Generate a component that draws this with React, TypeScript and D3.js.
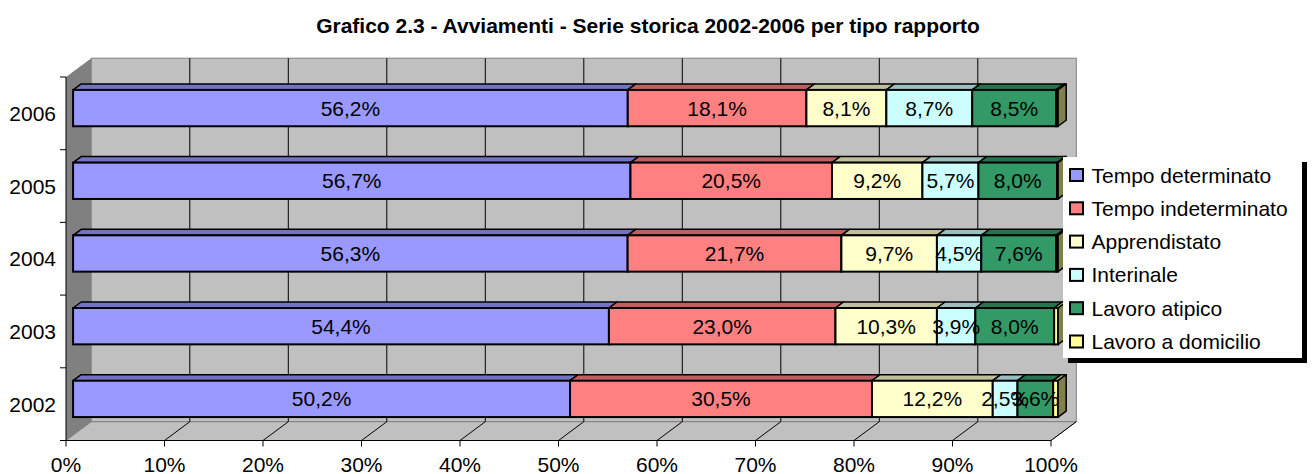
import React from 'react';
import * as d3 from 'd3';

const years = ['2006', '2005', '2004', '2003', '2002'];
const seriesNames = [
  'Tempo determinato',
  'Tempo indeterminato',
  'Apprendistato',
  'Interinale',
  'Lavoro atipico',
  'Lavoro a domicilio',
];
const tempoDeterminato = [56.2, 56.7, 56.3, 54.4, 50.2];
const tempoIndeterminato = [18.1, 20.5, 21.7, 23.0, 30.5];
const apprendistato = [8.1, 9.2, 9.7, 10.3, 12.2];
const interinale = [8.7, 5.7, 4.5, 3.9, 2.5];
const lavoroAtipico = [8.5, 8.0, 7.6, 8.0, 3.6];
const lavoroDomicilio = [0.2, 0.1, 0.2, 0.4, 0.5];
const xTicks = [0, 0.1, 0.2, 0.3, 0.4, 0.5, 0.6, 0.7, 0.8, 0.9, 1];

const colors = ['#9999FF', '#FF8080', '#FFFFCC', '#CCFFFF', '#339966', '#FFFF99'];
const font = "'Liberation Sans', Arial, sans-serif";

const W = 1312, H = 474;
// front plane of the 3d box and depth vector
const left = 66, right = 1051, top = 77, bottom = 440.5;
const dx = 25.3, dy = -18.8;
// bar front / back depth within the box
const bf = 0.28, bb = 0.6;
const fs = 21;

export default function App() {
  const rows = years.map((y, i) => ({
    year: y,
    [seriesNames[0]]: tempoDeterminato[i],
    [seriesNames[1]]: tempoIndeterminato[i],
    [seriesNames[2]]: apprendistato[i],
    [seriesNames[3]]: interinale[i],
    [seriesNames[4]]: lavoroAtipico[i],
    [seriesNames[5]]: lavoroDomicilio[i],
  }));

  const stacked = d3.stack<any>().keys(seriesNames).offset(d3.stackOffsetExpand)(rows);

  const x = d3.scaleLinear().domain([0, 1]).range([left, right]);
  const y = d3.scaleBand().domain(years).range([top, bottom]).paddingInner(0.5).paddingOuter(0.25);
  const bw = y.bandwidth();

  const fx = dx * bf, fy = dy * bf;
  const ddx = dx * (bb - bf), ddy = dy * (bb - bf);

  const fmt = (v: number) => d3.format('.1f')(v).replace('.', ',') + '%';
  const shade = (c: string, k: number) => {
    const r = d3.rgb(c);
    return d3.rgb(r.r * k, r.g * k, r.b * k).formatHex();
  };

  const bars: any[] = [];
  const labels: any[] = [];
  years.forEach((yr, i) => {
    const y0 = (y(yr) as number) + fy;
    const y1 = y0 + bw;
    stacked.forEach((s, k) => {
      const d = s[i];
      const xa = x(d[0]) + fx, xb = x(d[1]) + fx;
      bars.push(
        <g key={yr + k}>
          <polygon
            points={`${xa},${y0} ${xb},${y0} ${xb + ddx},${y0 + ddy} ${xa + ddx},${y0 + ddy}`}
            fill={shade(colors[k], 0.75)}
            stroke="#000"
            strokeWidth={1.5}
            strokeLinejoin="round"
          />
          <rect x={xa} y={y0} width={xb - xa} height={bw} fill={colors[k]} stroke="#000" strokeWidth={2} />
          {k === stacked.length - 1 && (
            <polygon
              points={`${xb},${y0} ${xb + ddx},${y0 + ddy} ${xb + ddx},${y1 + ddy} ${xb},${y1}`}
              fill={shade(colors[k], 0.5)}
              stroke="#000"
              strokeWidth={1.5}
              strokeLinejoin="round"
            />
          )}
        </g>
      );
      // the tiny last series has no visible labels
      if (k < stacked.length - 1) {
        labels.push(
          <text
            key={'l' + yr + k}
            x={(xa + xb) / 2}
            y={(y0 + y1) / 2 + 7.5}
            textAnchor="middle"
            fontSize={fs}
            fontFamily={font}
          >
            {fmt((d.data as any)[seriesNames[k]])}
          </text>
        );
      }
    });
  });

  const catTicks = d3.range(years.length + 1).map((i) => top + (i * (bottom - top)) / years.length);

  const lgX = 1063, lgY = 157, lgW = 239, lgH = 201;

  return (
    <div style={{ position: 'absolute', left: 0, top: 0 }}>
      <svg width={W} height={H} style={{ display: 'block', background: '#fff' }}>
        <text x={648} y={33} textAnchor="middle" fontSize={21} fontWeight="bold" fontFamily={font}>
          Grafico 2.3 - Avviamenti - Serie storica 2002-2006 per tipo rapporto
        </text>

        {/* walls */}
        <polygon
          points={`${left},${top} ${left + dx},${top + dy} ${left + dx},${bottom + dy} ${left},${bottom}`}
          fill="#808080"
        />
        <rect x={left + dx} y={top + dy} width={right - left} height={bottom - top} fill="#C0C0C0" stroke="#808080" strokeWidth={1} />
        <polygon
          points={`${left},${bottom} ${right},${bottom} ${right + dx},${bottom + dy} ${left + dx},${bottom + dy}`}
          fill="#C0C0C0"
          stroke="#808080"
          strokeWidth={1}
        />
        {xTicks.map((t) => (
          <g key={'g' + t}>
            {t > 0 && t < 1 && (
              <line x1={x(t) + dx} x2={x(t) + dx} y1={top + dy} y2={bottom + dy} stroke="#000" strokeWidth={1} />
            )}
            {t > 0 && (
              <line x1={x(t)} x2={x(t) + dx} y1={bottom} y2={bottom + dy} stroke="#000" strokeWidth={1} />
            )}
          </g>
        ))}

        {/* axes */}
        <line x1={left} x2={left} y1={top} y2={bottom} stroke="#000" strokeWidth={1} />
        <line x1={left} x2={right} y1={bottom} y2={bottom} stroke="#000" strokeWidth={1} />
        {catTicks.map((t, i) => (
          <line key={'ct' + i} x1={left - 6} x2={left} y1={t} y2={t} stroke="#000" strokeWidth={1} />
        ))}
        {xTicks.map((t) => (
          <g key={'xt' + t}>
            <line x1={x(t)} x2={x(t)} y1={bottom} y2={bottom + 6} stroke="#000" strokeWidth={1} />
            <text x={x(t)} y={471.5} textAnchor="middle" fontSize={fs} fontFamily={font}>
              {d3.format('.0%')(t)}
            </text>
          </g>
        ))}
        {years.map((yr) => (
          <text
            key={'yl' + yr}
            x={56}
            y={(y(yr) as number) + bw / 2 + 7.5}
            textAnchor="end"
            fontSize={fs}
            fontFamily={font}
          >
            {yr}
          </text>
        ))}

        {bars}
        {labels}

        {/* legend */}
        <rect x={lgX + 5} y={lgY + 5} width={lgW} height={lgH} fill="#000" />
        <rect x={lgX} y={lgY} width={lgW} height={lgH} fill="#fff" />
        {seriesNames.map((n, k) => {
          const cy = 175 + k * 33.3;
          return (
            <g key={'lg' + k}>
              <rect x={1070} y={cy - 6} width={13} height={12} fill={colors[k]} stroke="#000" strokeWidth={2} />
              <text x={1091.5} y={cy + 7.5} fontSize={fs} fontFamily={font}>
                {n}
              </text>
            </g>
          );
        })}
      </svg>
    </div>
  );
}
